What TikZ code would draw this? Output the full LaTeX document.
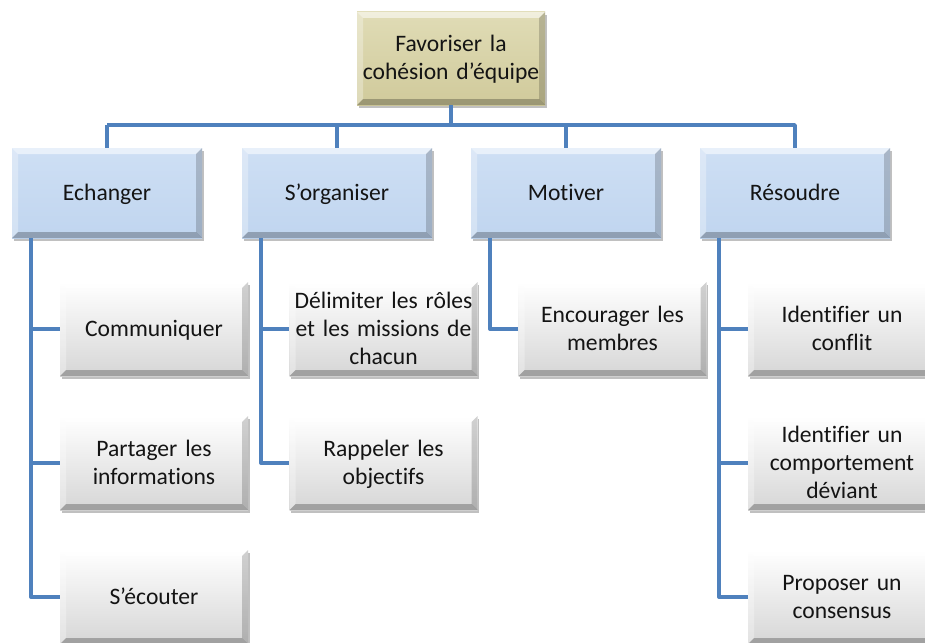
\documentclass[tikz,border=0pt]{standalone}
\usepackage{fontspec}
\setmainfont{Carlito}[Ligatures=NoCommon]
\usetikzlibrary{shadows}
\definecolor{linkblue}{RGB}{79,129,189}
\definecolor{rootA}{RGB}{224,220,182}
\definecolor{rootB}{RGB}{208,202,155}
\definecolor{lvA}{RGB}{206,223,244}
\definecolor{lvB}{RGB}{192,213,239}
\definecolor{leafA}{RGB}{255,255,255}
\definecolor{leafB}{RGB}{214,214,214}
\definecolor{txt}{RGB}{20,20,20}
\newcommand\mystrut{\rule[-0.14em]{0pt}{0.91em}}
\tikzset{
  bevel/.style={path picture={
    \coordinate (bNW) at (path picture bounding box.north west);
    \coordinate (bNE) at (path picture bounding box.north east);
    \coordinate (bSW) at (path picture bounding box.south west);
    \coordinate (bSE) at (path picture bounding box.south east);
    \fill[white,opacity=.55] (bNW) -- (bNE) -- ([xshift=-6pt,yshift=-6pt]bNE) -- ([xshift=6pt,yshift=-6pt]bNW) -- cycle;
    \fill[white,opacity=.3] (bNW) -- ([xshift=6pt,yshift=-6pt]bNW) -- ([xshift=6pt,yshift=6pt]bSW) -- (bSW) -- cycle;
    \fill[black,opacity=.18] (bNE) -- (bSE) -- ([xshift=-6pt,yshift=6pt]bSE) -- ([xshift=-6pt,yshift=-6pt]bNE) -- cycle;
    \fill[black,opacity=.25] (bSW) -- ([xshift=6pt,yshift=6pt]bSW) -- ([xshift=-6pt,yshift=6pt]bSE) -- (bSE) -- cycle;
  }},
  basebox/.style={rectangle, align=center, inner xsep=4pt, inner ysep=2pt,
    font=\fontsize{23.6}{28}\selectfont, text=txt, bevel,
    execute at begin node=\mystrut, execute at end node=\mystrut,
    drop shadow={shadow xshift=1.5pt, shadow yshift=-3pt, opacity=.35, fill=black!70}},
  rootbox/.style={basebox, text width=180pt, minimum height=93pt, top color=rootA, bottom color=rootB},
  lvbox/.style={basebox, text width=182pt, minimum height=90pt, top color=lvA, bottom color=lvB},
  leafbox/.style={basebox, text width=180pt, minimum height=94pt, top color=leafA, bottom color=leafB},
  link/.style={draw=linkblue, line width=3.4pt, line join=round}
}
\begin{document}
\begin{tikzpicture}[x=1pt,y=-1pt]
\clip (0,0) rectangle (925,642);
\fill[white] (0,0) rectangle (925,642);
\coordinate (bar) at (0,125);

\node[rootbox] (root) at (451,58.5) {Favoriser la\\cohésion d’équipe};

\node[lvbox] (e1) at (107,193) {Echanger};
\node[lvbox] (e2) at (337,193) {S’organiser};
\node[lvbox] (e3) at (566,193) {Motiver};
\node[lvbox] (e4) at (795,193) {Résoudre};

\node[leafbox] (l11) at (154,329) {Communiquer};
\node[leafbox] (l12) at (154,463) {Partager les\\informations};
\node[leafbox] (l13) at (154,597) {S’écouter};

\node[leafbox] (l21) at (383.5,329) {Délimiter les rôles\\et les missions de\\chacun};
\node[leafbox] (l22) at (383.5,463) {Rappeler les\\objectifs};

\node[leafbox] (l31) at (612.5,329) {Encourager les\\membres};

\node[leafbox] (l41) at (842,329) {Identifier un\\conflit};
\node[leafbox] (l42) at (842,463) {Identifier un\\comportement\\déviant};
\node[leafbox] (l43) at (842,597) {Proposer un\\consensus};

\draw[link] (root.south) -- (root.south |- bar);
\draw[link] (e1.north |- bar) -- (e1.north);
\draw[link] (e1.north |- bar) -- (e4.north |- bar) -- (e4.north);
\draw[link] (e2.north |- bar) -- (e2.north);
\draw[link] (e3.north |- bar) -- (e3.north);

\draw[link] ([xshift=19pt]e1.south west) |- (l13.west);
\draw[link] ([xshift=19pt]e1.south west |- l11.west) -- (l11.west);
\draw[link] ([xshift=19pt]e1.south west |- l12.west) -- (l12.west);

\draw[link] ([xshift=19pt]e2.south west) |- (l22.west);
\draw[link] ([xshift=19pt]e2.south west |- l21.west) -- (l21.west);

\draw[link] ([xshift=19pt]e3.south west) |- (l31.west);

\draw[link] ([xshift=19pt]e4.south west) |- (l43.west);
\draw[link] ([xshift=19pt]e4.south west |- l41.west) -- (l41.west);
\draw[link] ([xshift=19pt]e4.south west |- l42.west) -- (l42.west);
\end{tikzpicture}
\end{document}
